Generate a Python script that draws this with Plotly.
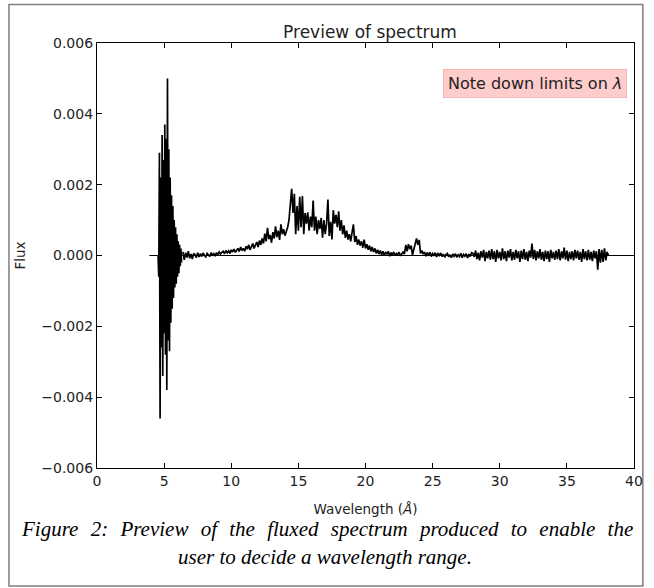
import plotly.graph_objects as go

# ---- data ----
# densely sampled noisy start of spectrum (wavelength grid start / step in Angstrom)
spike_start = 4.55
spike_step = 0.05
spike_flux = [
    0.0000, -0.0006, 0.0029, -0.0046, 0.0022, -0.0026, 0.0034, -0.0034, 0.0027, -0.0022,
    0.0037, -0.0028, 0.0033, -0.0038, 0.0050, -0.0024, 0.0030, -0.0027, 0.0022, -0.0019,
    0.0017, -0.0015, 0.0014, -0.0012, 0.0010, -0.0009, 0.0008, -0.0008, 0.0006, -0.0006,
    0.0004, -0.0005, 0.0003, -0.0003, 0.0002, -0.0002,
]

main_start = 6.4
main_step = 0.1
main_flux = [
    # 6.4 - 8.8
    0.00010, -0.00012, 0.00008, -0.00006, 0.00012, -0.00008, 0.00004, -0.00010, 0.00006, 0.00002,
    -0.00006, 0.00008, -0.00004, 0.00005, -0.00003, 0.00007, 0.00000, -0.00004, 0.00006, 0.00002,
    -0.00003, 0.00008, 0.00001, 0.00005, -0.00002,
    # 8.9 - 11.8
    0.00008, 0.00003, 0.00010, 0.00004, 0.00009, 0.00012, 0.00005, 0.00014, 0.00008, 0.00013,
    0.00006, 0.00016, 0.00010, 0.00018, 0.00009, 0.00015, 0.00020, 0.00011, 0.00024, 0.00014,
    0.00020, 0.00012, 0.00026, 0.00018, 0.00030, 0.00016, 0.00024, 0.00034, 0.00020, 0.00028,
    # 11.9 - 14.1
    0.00038, 0.00024, 0.00042, 0.00030, 0.00048, 0.00034, 0.00062, 0.00040, 0.00078, 0.00046,
    0.00058, 0.00036, 0.00066, 0.00048, 0.00082, 0.00052, 0.00070, 0.00044, 0.00088, 0.00060,
    0.00074, 0.00056, 0.00068,
    # 14.2 - 14.9
    0.00080, 0.00100, 0.00150, 0.00188, 0.00120, 0.00174, 0.00060, 0.00140,
    # 15.0 - 22.7
    0.00070, 0.00166, 0.00080, 0.00168, 0.00060, 0.00120, 0.00090, 0.00122, 0.00070, 0.00110,
    0.00080, 0.00155, 0.00070, 0.00110, 0.00060, 0.00100, 0.00075, 0.00106, 0.00050, 0.00100,
    0.00060, 0.00090, 0.00158, 0.00055, 0.00095, 0.00045, 0.00128, 0.00090, 0.00115, 0.00080,
    0.00125, 0.00070, 0.00100, 0.00060, 0.00085, 0.00050, 0.00070, 0.00045, 0.00060, 0.00040,
    0.00065, 0.00088, 0.00038, 0.00055, 0.00030, 0.00045, 0.00028, 0.00040, 0.00022, 0.00045,
    0.00020, 0.00032, 0.00016, 0.00028, 0.00012, 0.00024, 0.00010, 0.00020, 0.00006, 0.00016,
    0.00004, 0.00014, 0.00002, 0.00012, 0.00000, 0.00010, 0.00003, 0.00012, -0.00002, 0.00008,
    0.00002, 0.00010, 0.00000, 0.00006, 0.00003, 0.00009, -0.00001, 0.00005,
    # 22.8 - 24.9
    0.00010, 0.00004, 0.00030, 0.00012, 0.00032, 0.00018, 0.00028, 0.00002, 0.00020, 0.00036,
    0.00048, 0.00030, 0.00044, 0.00006, 0.00014, 0.00004, 0.00010, -0.00002, 0.00008, 0.00002,
    0.00009, -0.00003,
    # 25.0 - 27.9
    0.00006, 0.00001, 0.00008, -0.00004, 0.00005, 0.00000, 0.00007, -0.00003, 0.00004, -0.00005,
    0.00003, 0.00006, -0.00004, 0.00002, -0.00006, 0.00004, -0.00002, 0.00005, -0.00005, 0.00002,
    -0.00003, 0.00006, -0.00006, 0.00003, -0.00002, 0.00005, -0.00007, 0.00004, -0.00003, 0.00008,
    # 28.0 - 38.1
    0.00006, -0.00004, 0.00014, -0.00010, 0.00008, -0.00014, 0.00012, -0.00006, 0.00016, -0.00016,
    0.00010, -0.00008, 0.00014, -0.00012, 0.00018, -0.00010, 0.00012, -0.00018, 0.00016, -0.00008,
    0.00010, -0.00014, 0.00020, -0.00010, 0.00012, -0.00016, 0.00014, -0.00006, 0.00018, -0.00014,
    0.00010, -0.00012, 0.00016, -0.00008, 0.00012, -0.00018, 0.00014, -0.00010, 0.00018, -0.00012,
    0.00010, -0.00016, 0.00014, -0.00006, 0.00034, -0.00010, 0.00016, -0.00014, 0.00012, -0.00008,
    0.00018, -0.00012, 0.00010, -0.00016, 0.00014, -0.00010, 0.00012, -0.00018, 0.00016, -0.00008,
    0.00010, -0.00012, 0.00014, -0.00010, 0.00018, -0.00014, 0.00012, -0.00008, 0.00022, -0.00012,
    0.00014, -0.00016, 0.00010, -0.00010, 0.00012, -0.00014, 0.00016, -0.00008, 0.00014, -0.00012,
    0.00010, -0.00018, 0.00018, -0.00010, 0.00012, -0.00014, 0.00016, -0.00012, 0.00010, -0.00016,
    0.00014, -0.00008, 0.00012, -0.00040, 0.00018, -0.00020, 0.00016, -0.00018, 0.00020, -0.00014,
    0.00010, 0.00000,
]

baseline_x = [3.9, 40.0]
baseline_y = [0.0, 0.0]

x_ticks = [0, 5, 10, 15, 20, 25, 30, 35, 40]
y_ticks = [-0.006, -0.004, -0.002, 0.0, 0.002, 0.004, 0.006]
y_tick_text = ["\u22120.006", "\u22120.004", "\u22120.002", "0.000", "0.002", "0.004", "0.006"]

title_text = "Preview of spectrum"
x_label = "Wavelength (<i>\u00c5</i>)"
y_label = "Flux"
note_text = "Note down limits on <i>\u03bb</i>"
caption_1 = "Figure 2: Preview of the fluxed spectrum produced to enable the"
caption_2 = "user to decide a wavelength range."

# ---- figure ----
W, H = 654, 588
L, R, T, B = 97, 11, 43, 120
pw, ph = W - L - R, H - T - B

def px_to_paper_x(px):
    return (px - L) / pw

def px_to_paper_y(py):
    return (H - B - py) / ph

fig = go.Figure()
fig.add_trace(go.Scatter(x=baseline_x, y=baseline_y, mode="lines",
                         line=dict(color="black", width=1.2), hoverinfo="skip"))
fig.add_trace(go.Scatter(y=spike_flux, x0=spike_start, dx=spike_step, mode="lines",
                         line=dict(color="black", width=1.7)))
fig.add_trace(go.Scatter(y=main_flux, x0=main_start, dx=main_step, mode="lines",
                         line=dict(color="black", width=1.7)))

tick_font = dict(family="DejaVu Sans", size=14, color="#222")
label_font = dict(family="DejaVu Sans", size=13.5, color="#222")

fig.update_layout(
    width=W, height=H,
    margin=dict(l=L, r=R, t=T, b=B),
    paper_bgcolor="white", plot_bgcolor="white",
    showlegend=False,
    title=dict(text=title_text, x=(L + pw / 2) / W, xanchor="center",
               y=1 - 32 / H, yanchor="middle",
               font=dict(family="DejaVu Sans", size=17, color="#222")),
    xaxis=dict(range=[0, 40], tickvals=x_ticks, ticks="inside", ticklen=5,
               tickcolor="black", tickwidth=1, showline=True, linecolor="black",
               linewidth=1.2, mirror="allticks", showgrid=False, zeroline=False,
               tickfont=tick_font,
               title=dict(text=x_label, standoff=16, font=label_font)),
    yaxis=dict(range=[-0.006, 0.006], tickvals=y_ticks, ticktext=y_tick_text,
               ticks="inside", ticklen=5, tickcolor="black", tickwidth=1,
               showline=True, linecolor="black", linewidth=1.2, mirror="allticks",
               showgrid=False, zeroline=False, tickfont=tick_font,
               title=dict(text=y_label, standoff=12, font=label_font)),
)

# pink note box
fig.add_annotation(text=note_text, xref="paper", yref="paper",
                   x=px_to_paper_x(636), y=px_to_paper_y(69),
                   xanchor="right", yanchor="top", showarrow=False,
                   font=dict(family="DejaVu Sans", size=16, color="#222"),
                   bgcolor="#ffcccc", bordercolor="#f2b8b8", borderwidth=1, borderpad=4)

# caption (first line justified: wider inter-word spaces)
gap = "\u2002\u200a"
cap_font = dict(family="Liberation Serif", size=21, color="black")
fig.add_annotation(text="<i>" + caption_1.replace(" ", gap) + "</i>", xref="paper", yref="paper",
                   x=px_to_paper_x(331), y=px_to_paper_y(529), xanchor="center",
                   yanchor="middle", showarrow=False, font=cap_font)
fig.add_annotation(text="<i>" + caption_2 + "</i>", xref="paper", yref="paper",
                   x=px_to_paper_x(329), y=px_to_paper_y(557), xanchor="center",
                   yanchor="middle", showarrow=False, font=cap_font)

# outer frame around the whole figure
fig.add_shape(type="rect", xref="paper", yref="paper",
              x0=px_to_paper_x(7.5), x1=px_to_paper_x(652),
              y0=px_to_paper_y(586), y1=px_to_paper_y(4.5),
              line=dict(color="#7f7f7f", width=1.5), fillcolor="rgba(0,0,0,0)",
              layer="below")

fig.write_html("out.html")
